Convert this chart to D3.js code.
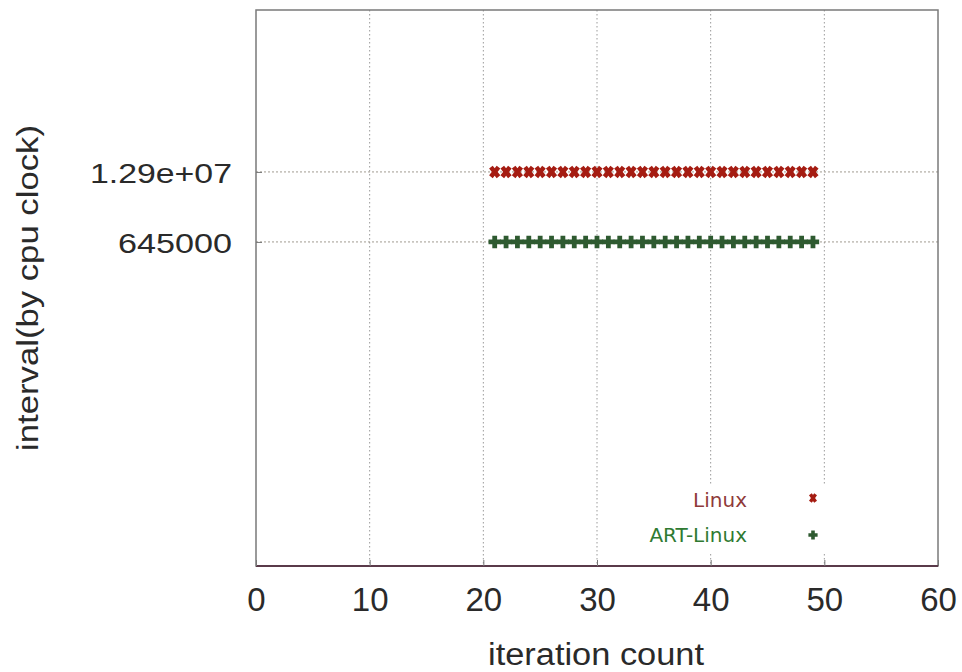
<!DOCTYPE html>
<html><head><meta charset="utf-8">
<script src="https://cdn.jsdelivr.net/npm/d3@7/dist/d3.min.js"></script>
<style>body{margin:0;background:#fff}svg{display:block}</style>
</head><body>
<script>
// ---- data ----
const iterations = [21,22,23,24,25,26,27,28,29,30,31,32,33,34,35,36,37,38,39,40,41,42,43,44,45,46,47,48,49];
const linuxValues = [1.29e7,1.29e7,1.29e7,1.29e7,1.29e7,1.29e7,1.29e7,1.29e7,1.29e7,1.29e7,1.29e7,1.29e7,1.29e7,1.29e7,1.29e7,1.29e7,1.29e7,1.29e7,1.29e7,1.29e7,1.29e7,1.29e7,1.29e7,1.29e7,1.29e7,1.29e7,1.29e7,1.29e7,1.29e7];
const artLinuxValues = [645000,645000,645000,645000,645000,645000,645000,645000,645000,645000,645000,645000,645000,645000,645000,645000,645000,645000,645000,645000,645000,645000,645000,645000,645000,645000,645000,645000,645000];
const seriesNames = ["Linux", "ART-Linux"];
const xTicks = [0,10,20,30,40,50,60];
const yTicks = [645000, 1.29e7];
const yTickLabels = ["645000", "1.29e+07"];

const W = 962, H = 672;
const m = {left:256, top:10, right:938, bottom:566};

const svg = d3.select("body").append("svg").attr("width", W).attr("height", H);

const x = d3.scaleLinear().domain([0,60]).range([m.left, m.right]);
const y = d3.scaleLog().domain([Math.pow(10,-0.213), Math.pow(10,10.12)]).range([m.bottom, m.top]);

// grid
const grid = svg.append("g");
grid.selectAll(".gx").data(xTicks.slice(1,-1)).join("line")
  .attr("x1", d=>x(d)).attr("x2", d=>x(d)).attr("y1", m.top).attr("y2", m.bottom)
  .attr("stroke", "#9a9a9a").attr("stroke-width", 1).attr("stroke-dasharray", "1.5,2.5");
grid.selectAll(".gy").data(yTicks).join("line")
  .attr("x1", m.left).attr("x2", m.right).attr("y1", d=>y(d)).attr("y2", d=>y(d))
  .attr("stroke", "#a09a90").attr("stroke-width", 1).attr("stroke-dasharray", "2,2");

// legend background box
svg.append("rect").attr("x", 640).attr("y", 486).attr("width", 192).attr("height", 68).attr("fill", "#fff");

// frame
svg.append("rect").attr("x", m.left).attr("y", m.top).attr("width", m.right-m.left).attr("height", m.bottom-m.top)
  .attr("fill", "none").attr("stroke", "#7a7a7a").attr("stroke-width", 1.5);
svg.append("line").attr("x1", m.left).attr("x2", m.right).attr("y1", m.bottom).attr("y2", m.bottom)
  .attr("stroke", "#5a3a4a").attr("stroke-width", 2);

// axes
const xAxis = d3.axisBottom(x).tickValues(xTicks).tickSize(-6).tickPadding(22).tickFormat(d3.format("d"));
const gx = svg.append("g").attr("transform", `translate(0,${m.bottom})`).call(xAxis);
gx.select(".domain").remove();
gx.selectAll("line").attr("stroke", "#777");
gx.selectAll("text").attr("font-family", "Liberation Sans, Arial, sans-serif").attr("font-size", 33)
  .attr("fill", "#2a2a2a").attr("dy", "0.71em");

const yAxis = d3.axisLeft(y).tickValues(yTicks).tickSize(-6).tickPadding(24)
  .tickFormat(d => yTickLabels[yTicks.indexOf(d)]);
const gy = svg.append("g").attr("transform", `translate(${m.left},0)`).call(yAxis);
gy.select(".domain").remove();
gy.selectAll("line").attr("stroke", "#777");
gy.selectAll("text").attr("font-family", "Liberation Sans, Arial, sans-serif").attr("font-size", 28)
  .attr("fill", "#2a2a2a").attr("dy", "0.36em")
  .attr("textLength", d => d === 645000 ? 114 : 142).attr("lengthAdjust", "spacingAndGlyphs");

// axis titles
svg.append("text").attr("x", 596).attr("y", 665).attr("text-anchor", "middle")
  .attr("font-family", "Liberation Sans, Arial, sans-serif").attr("font-size", 31).attr("fill", "#2a2a2a")
  .attr("textLength", 216).attr("lengthAdjust", "spacingAndGlyphs").text("iteration count");
svg.append("text").attr("transform", "translate(38,288) rotate(-90)").attr("text-anchor", "middle")
  .attr("font-family", "Liberation Sans, Arial, sans-serif").attr("font-size", 30).attr("fill", "#2a2a2a")
  .attr("textLength", 326).attr("lengthAdjust", "spacingAndGlyphs").text("interval(by cpu clock)");

// markers
const red = "#a51c12", green = "#2e5a30";
function cross(g, cx, cy, sx, sy, col, w) {
  g.append("path").attr("d", `M${cx-sx},${cy-sy}L${cx+sx},${cy+sy}M${cx-sx},${cy+sy}L${cx+sx},${cy-sy}`)
    .attr("stroke", col).attr("stroke-width", w).attr("fill", "none");
}
function plus(g, cx, cy, s, col, w) {
  g.append("path").attr("d", `M${cx-s},${cy}L${cx+s},${cy}M${cx},${cy-s}L${cx},${cy+s}`)
    .attr("stroke", col).attr("stroke-width", w).attr("fill", "none");
}
const pts = svg.append("g");
iterations.forEach((it, i) => {
  cross(pts, x(it), y(linuxValues[i]), 3.8, 4.8, red, 4.6);
  plus(pts, x(it), y(artLinuxValues[i]), 6.2, green, 4.8);
});

// legend
const lg = svg.append("g").attr("font-family", "DejaVu Sans, Verdana, sans-serif").attr("font-size", 20);
lg.append("text").attr("x", 747).attr("y", 507).attr("text-anchor", "end").attr("fill", "#8f3a3a").text(seriesNames[0]);
lg.append("text").attr("x", 747).attr("y", 542).attr("text-anchor", "end").attr("fill", "#2f7a32").text(seriesNames[1]);
cross(lg, 813, 498, 2.6, 3.8, red, 3.4);
plus(lg, 813, 535, 4.6, green, 3.6);
</script>
</body></html>
